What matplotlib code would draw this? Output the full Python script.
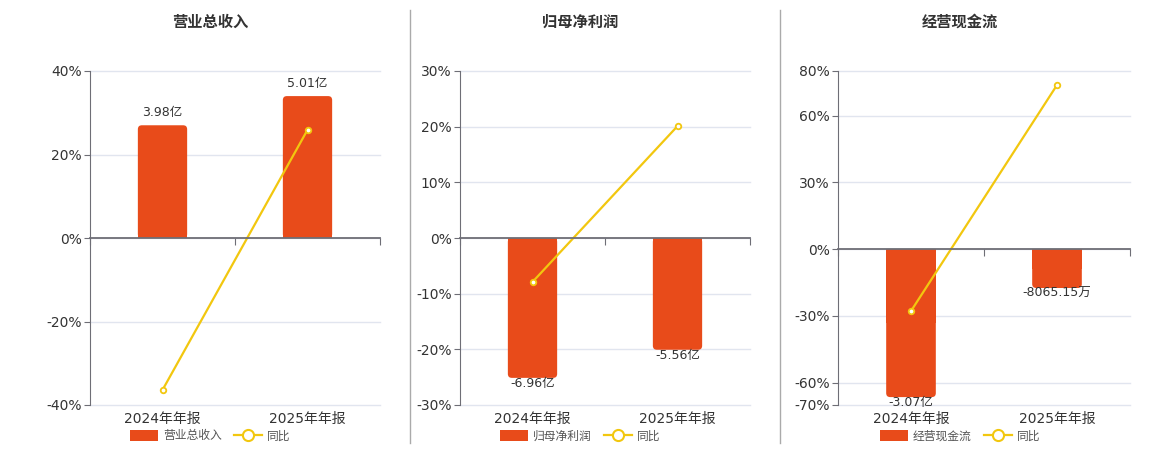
import matplotlib.pyplot as plt
from matplotlib.lines import Line2D
from matplotlib.patches import FancyBboxPatch, Rectangle

plt.rcParams['font.family'] = ['DejaVu Sans', 'Noto Sans CJK SC']

# data
years = ["2024年年报", "2025年年报"]
titles = ["营业总收入", "归母净利润", "经营现金流"]
values = [[3.98, 5.01], [-6.96, -5.56], [-3.07, -0.806515]]
value_labels = [["3.98亿", "5.01亿"], ["-6.96亿", "-5.56亿"], ["-3.07亿", "-8065.15万"]]
yoy = [[-36.4, 25.9], [-7.9, 20.1], [-27.8, 73.7]]
pct_ticks = [[-40, -20, 0, 20, 40],
             [-30, -20, -10, 0, 10, 20, 30],
             [-70, -60, -30, 0, 30, 60, 80]]
# bar units (亿) per 1% on the shared scale
bar_scale = [0.1474, 0.277, 0.0462]

BAR = '#E84B1A'
LINE = '#F2C70F'
TXT = '#333333'
GRID = '#E1E5EF'
AXIS = '#6E6E76'

W, H = 1160, 450
fig = plt.figure(figsize=(W / 100, H / 100), dpi=100)

lefts = [90, 460, 838]
widths = [290, 290, 292]
centers = [210, 580, 960]
top, bottom = 71, 405
bw = 0.34
radius_px = 4

for i in range(3):
    rect = [lefts[i] / W, 1 - bottom / H, widths[i] / W, (bottom - top) / H]
    ax = fig.add_axes(rect)
    lo, hi = pct_ticks[i][0], pct_ticks[i][-1]
    ax.set_ylim(lo, hi)
    ax.set_xlim(-0.5, 1.5)
    ax.set_yticks(pct_ticks[i])
    ax.set_yticklabels([f"{t}%" for t in pct_ticks[i]], fontsize=10, color=TXT)
    ax.tick_params(axis='y', length=4, color=AXIS, pad=2)
    ax.tick_params(axis='x', bottom=False, labelbottom=False)
    ax.grid(axis='y', color=GRID, linewidth=1)
    for gl in ax.get_ygridlines():
        gl.set_clip_on(False)
    ax.set_axisbelow(True)
    for s in ['top', 'right', 'bottom']:
        ax.spines[s].set_visible(False)
    ax.spines['left'].set_color(AXIS)

    # bars with rounded corners (flat at the zero line)
    axb = ax.twinx()
    ylo, yhi = lo * bar_scale[i], hi * bar_scale[i]
    axb.set_ylim(ylo, yhi)
    axb.set_xlim(-0.5, 1.5)
    axb.axis('off')
    xpp = 2.0 / widths[i]
    ypp = (yhi - ylo) / (bottom - top)
    for j, (v, lab) in enumerate(zip(values[i], value_labels[i])):
        y0 = min(0, v)
        axb.add_patch(FancyBboxPatch((j - bw / 2, y0), bw, abs(v),
                                     boxstyle=f"round,pad=0,rounding_size={radius_px * xpp}",
                                     mutation_aspect=ypp / xpp, facecolor=BAR,
                                     edgecolor='none'))
        axb.add_patch(Rectangle((j - bw / 2, 0), bw, v / 2, facecolor=BAR,
                                edgecolor='none'))
        if v >= 0:
            axb.annotate(lab, (j, v), xytext=(0, 9), textcoords='offset points',
                         ha='center', va='center', fontsize=9, color=TXT)
        else:
            axb.annotate(lab, (j, v), xytext=(0, -4), textcoords='offset points',
                         ha='center', va='center', fontsize=9, color=TXT)

    # yoy line + zero axis
    axl = ax.twinx()
    axl.set_ylim(lo, hi)
    axl.set_xlim(-0.5, 1.5)
    axl.plot([0, 1], yoy[i], color=LINE, linewidth=1.6, marker='o', markersize=4,
             markerfacecolor='white', markeredgecolor=LINE, markeredgewidth=1.3)
    axl.set_yticks([])
    axl.xaxis.set_visible(True)
    for s in ['top', 'right', 'left']:
        axl.spines[s].set_visible(False)
    axl.spines['bottom'].set_visible(True)
    axl.spines['bottom'].set_position(('data', 0))
    axl.spines['bottom'].set_color(AXIS)
    axl.spines['bottom'].set_linewidth(1.3)
    axl.set_xticks([-0.5, 0.5, 1.5])
    axl.set_xticklabels([])
    axl.tick_params(axis='x', length=5, color=AXIS, direction='out')

    for j, yr in enumerate(years):
        ax.text(j, -0.022, yr, transform=ax.get_xaxis_transform(), ha='center',
                va='top', fontsize=10, color=TXT)

    fig.text(centers[i] / W, 1 - 22 / H, titles[i], ha='center', va='center',
             fontsize=11, fontweight='bold', color=TXT)

    handles = [FancyBboxPatch((0, 0), 1, 1, boxstyle="round,pad=0,rounding_size=0.2",
                              facecolor=BAR, edgecolor='none'),
               Line2D([0], [0], color=LINE, linewidth=1.6, marker='o', markersize=8,
                      markerfacecolor='white', markeredgecolor=LINE, markeredgewidth=1.5)]
    fig.legend(handles, [titles[i], "同比"], loc='center',
               bbox_to_anchor=(centers[i] / W, 1 - 436 / H), ncol=2, frameon=False,
               fontsize=8.5, labelcolor='#555555', handlelength=2.4, handleheight=1.1,
               columnspacing=1.0, handletextpad=0.4)

for x in [410, 780]:
    fig.add_artist(Line2D([x / W, x / W], [1 - 10 / H, 1 - 443 / H], color='#AAAAAA',
                          linewidth=1))

fig.savefig("out.png", dpi=100)
